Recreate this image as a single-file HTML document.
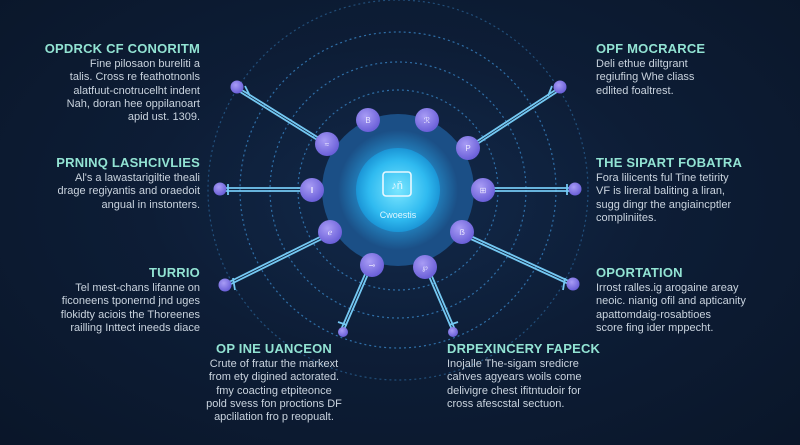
<!DOCTYPE html>
<html><head><meta charset="utf-8"><style>
html,body{margin:0;padding:0}
body{width:800px;height:445px;overflow:hidden;position:relative;background:radial-gradient(ellipse at 50% 45%,#12294a 0%,#0d1d36 45%,#0a1629 100%);font-family:"Liberation Sans",sans-serif}
.b{position:absolute;color:#c9d3de;font-size:11px;line-height:13.3px}
.b h{display:block;color:#92e3d3;font-weight:bold;font-size:13px;letter-spacing:0.2px;margin-bottom:2px;line-height:15px}
.r{text-align:right}.c{text-align:center}
svg{position:absolute;left:0;top:0}
</style></head><body>
<svg width="800" height="445" viewBox="0 0 800 445">
<defs>
<radialGradient id="core" cx="50%" cy="50%" r="50%"><stop offset="0" stop-color="#7ae6ff"/><stop offset="0.7" stop-color="#2fbaf0"/><stop offset="1" stop-color="#1b95d6"/></radialGradient>
<radialGradient id="glow" cx="50%" cy="50%" r="50%"><stop offset="0.55" stop-color="#29a8e8" stop-opacity="0.7"/><stop offset="1" stop-color="#29a8e8" stop-opacity="0"/></radialGradient>
<radialGradient id="nd" cx="40%" cy="35%" r="65%"><stop offset="0" stop-color="#a89cf5"/><stop offset="1" stop-color="#6a5fd8"/></radialGradient>
</defs>
<g fill="none" stroke="#2f6fa8" stroke-width="1.2" stroke-dasharray="2 3">
<circle cx="398" cy="190" r="100"/><circle cx="398" cy="190" r="128"/><circle cx="398" cy="190" r="158"/><circle cx="398" cy="190" r="190" opacity="0.6"/>
</g>
<circle cx="398" cy="190" r="76" fill="#1b4f86"/>
<circle cx="398" cy="190" r="60" fill="url(#glow)"/>
<circle cx="398" cy="190" r="42" fill="url(#core)"/>
<rect x="383" y="172" width="28" height="24" rx="3" fill="none" stroke="#e8f8ff" stroke-width="1.6"/>
<text x="397" y="189" text-anchor="middle" font-size="11" fill="#e8f8ff" font-family="Liberation Sans">♪ň</text>
<text x="398" y="218" text-anchor="middle" font-size="9" fill="#dff6ff" font-family="Liberation Sans">Cwoestis</text>
<g stroke="#74c8f2" stroke-width="1.8" fill="none">
<path d="M327 143 L237 87 M327 146 L237 90"/>
<path d="M468 147 L560 87 M468 150 L560 90"/>
<path d="M312 188 L220 188 M312 191 L220 191"/>
<path d="M483 188 L575 188 M483 191 L575 191"/>
<path d="M330 232 L225 284 M330 235 L225 287"/>
<path d="M462 232 L573 283 M462 235 L573 286"/>
<path d="M372 265 L343 332 M369 265 L340 332"/>
<path d="M425 267 L453 332 M428 267 L456 332"/>
<path d="M245 86 L250 96 M552 86 L548 96 M228 184 L228 195 M567 184 L567 195 M233 278 L235 290 M565 278 L563 290 M338 322 L347 325 M458 322 L449 325"/>
</g>
<g fill="url(#nd)">
<circle cx="368" cy="120" r="12"/><circle cx="427" cy="120" r="12"/>
<circle cx="327" cy="144" r="12"/><circle cx="468" cy="148" r="12"/>
<circle cx="312" cy="190" r="12"/><circle cx="483" cy="190" r="12"/>
<circle cx="330" cy="232" r="12"/><circle cx="462" cy="232" r="12"/>
<circle cx="372" cy="265" r="12"/><circle cx="425" cy="267" r="12"/>
<circle cx="237" cy="87" r="6.5"/><circle cx="560" cy="87" r="6.5"/>
<circle cx="220" cy="189" r="6.5"/><circle cx="575" cy="189" r="6.5"/>
<circle cx="225" cy="285" r="6.5"/><circle cx="573" cy="284" r="6.5"/>
<circle cx="343" cy="332" r="5"/><circle cx="453" cy="332" r="5"/>
</g>
<g font-size="8" fill="#e9e6ff" text-anchor="middle" font-family="Liberation Sans">
<text x="368" y="123">B</text><text x="427" y="123">ℛ</text><text x="327" y="147">≈</text><text x="468" y="151">P</text>
<text x="312" y="193">‖</text><text x="483" y="193">⊞</text><text x="330" y="235">ℯ</text><text x="462" y="235">ẞ</text>
<text x="372" y="268">⊸</text><text x="425" y="270">℘</text>
</g>
</svg>
<div class="b r" style="right:600px;top:41px"><h>OPDRCK CF CONORITM</h>Fine pilosaon bureliti a<br>talis. Cross re feathotnonls<br>alatfuut-cnotrucelht indent<br>Nah, doran hee oppilanoart<br>apid ust. 1309.</div>
<div class="b r" style="right:600px;top:155px"><h>PRNINQ LASHCIVLIES</h>Al's a lawastarigiltie theali<br>drage regiyantis and oraedoit<br>angual in instonters.</div>
<div class="b r" style="right:600px;top:265px"><h>TURRIO</h>Tel mest-chans lifanne on<br>ficoneens tponernd jnd uges<br>flokidty aciois the Thoreenes<br>railling Inttect ineeds diace</div>
<div class="b c" style="left:188px;width:172px;top:341px"><h>OP INE UANCEON</h>Crute of fratur the markext<br>from ety digined actorated.<br>fmy coacting etpiteonce<br>pold svess fon proctions DF<br>apclilation fro p reopualt.</div>
<div class="b" style="left:596px;top:41px"><h>OPF MOCRARCE</h>Deli ethue diltgrant<br>regiufing Whe cliass<br>edlited foaltrest.</div>
<div class="b" style="left:596px;top:155px"><h>THE SIPART FOBATRA</h>Fora lilicents ful Tine tetirity<br>VF is lireral baliting a liran,<br>sugg dingr the angiaincptler<br>compliniites.</div>
<div class="b" style="left:596px;top:265px"><h>OPORTATION</h>Irrost ralles.ig arogaine areay<br>neoic. nianig ofil and apticanity<br>apattomdaig-rosabtioes<br>score fing ider mppecht.</div>
<div class="b" style="left:447px;top:341px"><h>DRPEXINCERY FAPECK</h>Inojalle The-sigam sredicre<br>cahves agyears woils come<br>delivigre chest ifitntudoir for<br>cross afescstal sectuon.</div>
</body></html>
